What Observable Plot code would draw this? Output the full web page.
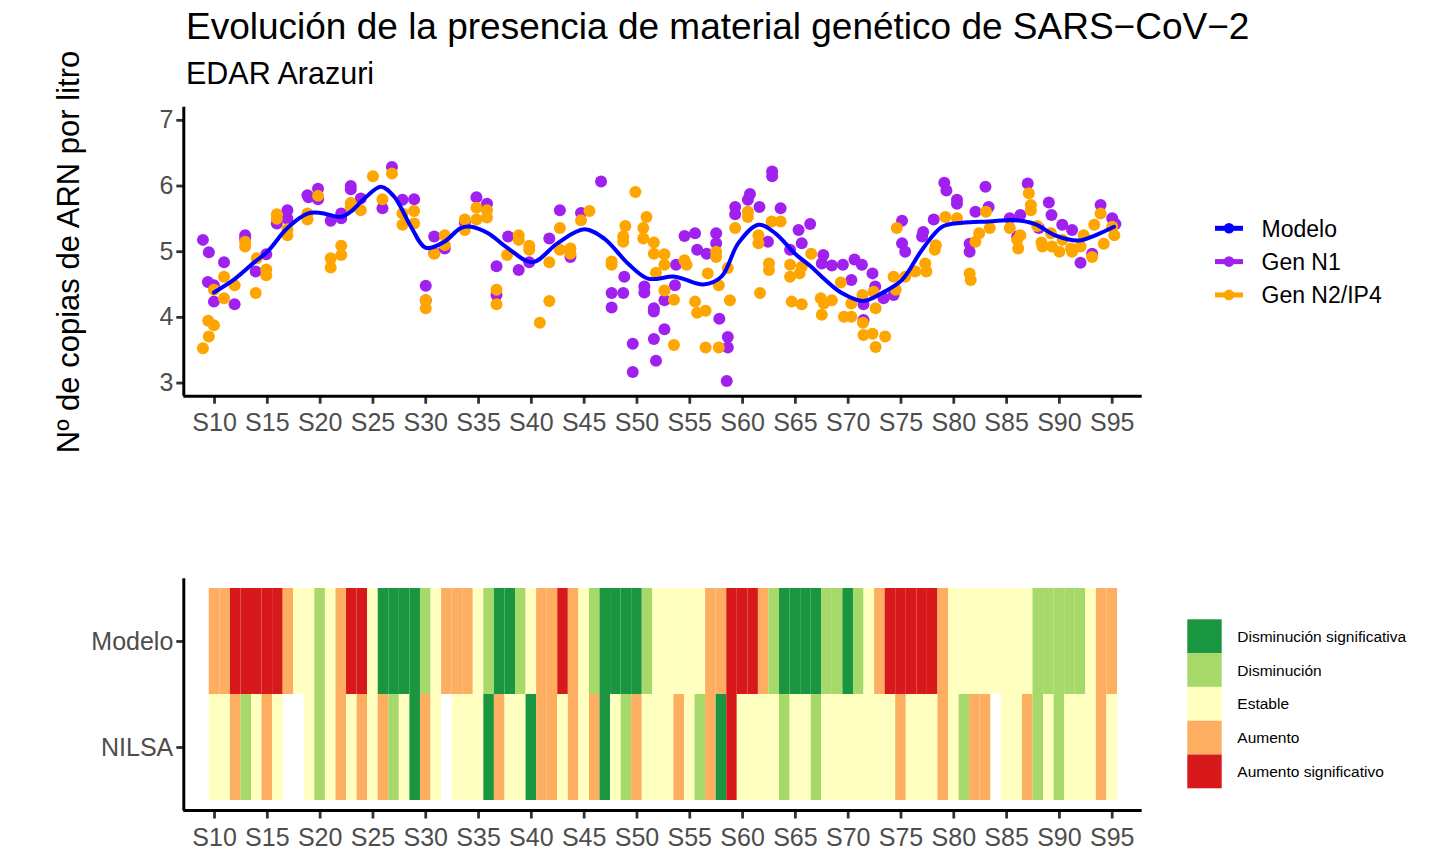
<!DOCTYPE html>
<html><head><meta charset="utf-8">
<script src="https://cdn.jsdelivr.net/npm/d3@7"></script>
<script src="https://cdn.jsdelivr.net/npm/@observablehq/plot@0.6"></script>
<style>
html,body{margin:0;padding:0;background:#fff;}
#root{position:relative;width:1435px;height:864px;overflow:hidden;font-family:"Liberation Sans",Arial,sans-serif;background:#fff;}
#root > svg{position:absolute;}
</style></head><body><div id="root"></div>
<script>
// ---------- DATA ----------
const title = "Evolución de la presencia de material genético de SARS−CoV−2";
const subtitle = "EDAR Arazuri";
const yTitle = "Nº de copias de ARN por litro";
const xTicks = [10,15,20,25,30,35,40,45,50,55,60,65,70,75,80,85,90,95];
const yTicks = [3,4,5,6,7];
const seriesNames = ["Modelo","Gen N1","Gen N2/IP4"];
const seriesColors = ["#0000FF","#A020F0","#FFA500"];

// Gen N1 [week, log10 copies/L]
const genN1 = [
[8.9,5.18],[9.46,4.99],[9.37,4.54],[9.94,4.49],[9.94,4.24],[10.9,4.84],[11.9,4.2],[12.9,5.25],[12.9,5.2],[13.9,4.7],
[14.9,4.96],[15.9,5.43],[16.9,5.63],[16.9,5.5],[18.8,5.86],[18.9,5.83],[19.8,5.96],[19.8,5.8],[21.0,5.47],[22.0,5.51],
[22.0,5.58],[22.9,6.0],[22.9,5.95],[23.85,5.81],[25.9,5.66],[26.8,6.29],[27.8,5.79],[28.9,5.8],[30.0,4.48],[30.0,4.26],
[30.8,5.23],[30.8,4.98],[31.8,5.05],[33.7,5.45],[34.8,5.83],[35.8,5.73],[36.7,4.78],[36.7,4.34],
[37.8,5.23],[38.8,4.72],[39.8,4.84],[41.7,5.2],[42.7,5.63],[43.7,4.92],[44.7,5.59],[46.6,6.07],[47.6,4.37],[47.6,4.15],
[48.7,4.37],[48.8,4.62],[49.6,3.6],[49.6,3.17],[50.7,4.47],[50.7,4.38],[51.6,4.14],[51.6,4.09],[51.6,3.67],[51.8,3.34],
[52.6,4.26],[52.6,3.82],[53.6,4.49],[53.7,4.8],[54.5,5.24],[55.5,5.28],[55.7,5.03],[56.6,4.97],[57.5,5.28],[57.5,5.13],
[57.8,3.98],[58.6,3.7],[58.6,3.54],[58.5,3.03],[59.3,5.68],[59.3,5.57],[60.7,5.88],[60.5,5.79],[61.6,5.68],[62.4,5.15],
[62.8,6.22],[62.8,6.15],[63.6,5.66],[64.5,5.03],[65.3,5.33],[65.6,5.13],[66.4,5.42],
[67.65,4.95],[67.5,4.82],[68.45,4.79],[69.5,4.8],[70.3,4.57],[70.6,4.88],[71.3,4.8],[71.45,4.2],[71.45,3.96],[72.3,4.67],
[72.56,4.47],[73.35,4.29],[74.3,4.34],[75.1,5.47],[75.1,5.13],[75.4,5.0],[77.1,5.3],[77.0,5.23],[78.1,5.49],[79.1,6.05],
[79.3,5.93],[80.3,5.79],[80.3,5.73],[81.5,5.12],[81.5,5.0],[82.05,5.61],[83.0,5.99],[83.3,5.68],[85.3,5.51],[86.0,5.23],
[86.3,5.56],[87.0,6.04],[88.05,5.36],[89.0,5.75],[89.25,5.56],[90.27,5.41],[91.2,5.33],[92.0,4.83],[93.1,4.97],[93.9,5.71],
[95.0,5.51],[95.3,5.42]
];

// Gen N2/IP4 [week, log10 copies/L]
const genN2 = [
[8.9,3.53],[9.46,3.71],[9.4,3.95],[9.94,3.88],[9.94,4.42],[10.9,4.62],[10.9,4.29],[11.9,4.49],[12.9,5.08],[12.9,5.15],
[13.9,4.37],[14.0,4.9],[14.9,4.73],[14.9,4.64],[15.9,5.57],[15.9,5.5],[16.9,5.34],[16.9,5.25],[18.8,5.58],[18.8,5.49],
[19.8,5.85],[21.0,4.9],[21.0,4.76],[22.0,5.09],[22.0,4.95],[22.9,5.74],[22.9,5.68],[23.85,5.63],[25.0,6.15],[25.9,5.8],
[26.8,6.19],[27.8,5.41],[27.8,5.58],[28.9,5.62],[28.9,5.43],[30.0,4.26],[30.0,4.14],[30.8,4.97],[31.8,5.25],[31.8,5.1],
[33.7,5.49],[33.7,5.33],[34.8,5.67],[34.8,5.49],[35.8,5.63],[35.8,5.52],[36.7,4.42],[36.7,4.2],
[37.7,4.95],[38.8,5.25],[38.8,5.18],[39.8,5.09],[39.8,5.03],[40.8,3.92],[41.7,4.84],[41.7,4.25],[42.7,5.36],[42.7,5.03],
[43.7,5.05],[43.7,4.97],[44.7,5.48],[45.5,5.62],[47.6,4.85],[47.6,4.8],[48.7,5.23],[48.7,5.15],[48.9,5.39],[49.85,5.91],
[50.6,5.36],[50.6,5.2],[50.9,5.53],[51.6,5.14],[51.6,4.97],[51.8,4.68],[52.6,4.96],[52.6,4.8],[52.6,4.41],[53.5,4.27],
[53.5,3.58],[54.5,4.87],[54.7,4.8],[55.5,4.24],[55.7,4.07],[56.5,4.1],[56.5,3.54],[56.7,4.67],[57.5,5.0],[57.5,4.92],
[57.75,4.49],[57.75,3.54],[58.6,4.75],[58.8,4.26],[59.3,5.36],[60.5,5.61],[60.5,5.53],[61.5,5.25],[61.5,5.13],[61.65,4.37],
[62.5,4.82],[62.5,4.72],[62.75,5.46],[63.6,5.46],[64.5,4.8],[64.5,4.62],[64.65,4.24],[65.4,4.67],[65.6,4.2],
[65.6,4.77],[66.5,4.97],[67.4,4.29],[67.5,4.04],[67.7,4.21],[68.45,4.26],[69.3,4.53],[69.6,4.01],[70.3,4.01],[70.3,4.21],
[71.35,4.34],[71.4,3.92],[71.45,3.73],[72.3,3.75],[72.4,4.39],[72.6,4.14],[72.6,3.55],[73.5,3.71],[74.3,4.62],[74.5,4.42],
[74.6,5.36],[75.4,4.62],[76.35,4.7],[77.3,4.82],[77.4,4.7],[78.2,5.03],[78.3,5.1],[79.2,5.53],[80.3,5.51],[81.5,4.67],
[81.6,4.57],[82.05,5.15],[82.4,5.28],[83.05,5.61],[83.4,5.36],[85.3,5.36],[86.0,5.18],[86.1,5.05],[86.3,5.25],[87.1,5.89],
[87.3,5.71],[87.3,5.63],[87.9,5.39],[88.3,5.14],[88.4,5.08],[89.2,5.28],[89.3,5.08],[90.0,5.0],[90.3,5.18],[91.1,5.05],
[91.2,5.0],[92.0,5.08],[92.3,5.25],[93.1,4.92],[93.3,5.41],[93.9,5.58],[94.2,5.12],[95.0,5.38],[95.2,5.25]
];

// Modelo (smoothed curve)
const modelo = [
[9.94,4.38],[11.8,4.57],[13.7,4.83],[15.0,5.0],[16.9,5.36],[18.8,5.58],[20.05,5.59],[21.95,5.53],[22.9,5.61],[24.2,5.81],
[25.75,5.99],[27.0,5.84],[28.6,5.38],[30.0,5.06],[31.75,5.15],[33.3,5.36],[34.3,5.38],[35.9,5.28],[37.8,5.05],[40.1,4.84],
[42.5,5.13],[45.0,5.34],[46.9,5.2],[49.15,4.82],[51.05,4.59],[53.6,4.62],[56.3,4.5],[58.0,4.62],[59.6,5.13],[61.5,5.41],
[63.1,5.28],[64.97,4.97],[66.5,4.77],[67.5,4.62],[69.4,4.37],[71.45,4.25],[73.2,4.37],[75.1,4.57],[77.0,5.03],[78.9,5.38],
[80.8,5.44],[83.3,5.46],[85.8,5.48],[87.7,5.42],[89.6,5.25],[91.85,5.17],[93.4,5.25],[95.17,5.38]
];

// Heatmap: week-by-week trend category
const heatRows = ["Modelo","NILSA"];
const heatFirstWeek = 10;
const catCodes = ["DS","D","E","A","AS"];
const catLabels = ["Disminución significativa","Disminución","Estable","Aumento","Aumento significativo"];
const catColors = ["#1a9641","#a6d96a","#ffffbf","#fdae61","#d7191c"];
const modeloTrend = [
"A","A","AS","AS","AS","AS","AS","A","E","E",
"D","E","A","AS","AS","E","DS","DS","DS","DS",
"D","E","A","A","A","E","D","DS","DS","D",
"E","A","A","AS","A","E","D","DS","DS","DS",
"DS","D","E","E","E","E","E","A","A","AS",
"AS","AS","A","D","DS","DS","DS","DS","D","D",
"DS","D","E","A","AS","AS","AS","AS","AS","A",
"E","E","E","E","E","E","E","E","D","D",
"D","D","D","E","A","A"
];
const nilsaTrend = [
"E","E","A","D","E","A","E",null,null,"E",
"D","E","A","E","A","E","A","D","E","DS",
"A","E",null,"E","E","E","DS","A","E","E",
"DS","A","A","E","A","E","A","DS","E","D",
"A","E","E","E","A","E","D","A","DS","AS",
"E","E","E","E","D","E","E","D","E","E",
"E","E","E","E","E","A","E","E","E","A",
"E","D","A","A",null,"E","E","A","D","E",
"D","E","E","E","A","E"
];

// ---------- LAYOUT ----------
const FONT = '"Liberation Sans", Arial, sans-serif';
const xDomain = [7.09, 97.84];
const yDomain = [2.8, 7.2];
const W = 1160;
const TOP = {top: 90, height: 350, ml: 183.3, mr: 18.3, mt: 16.7, mb: 44.3};
const BOT = {top: 560, height: 300, ml: 183.3, mr: 18.3, mt: 18.3, mb: 49.5};
const root = document.getElementById("root");
const tickTextColor = "#4d4d4d";
const axisCommon = {fontSize: 25, fill: tickTextColor, stroke: "#333333", strokeWidth: 2.8, label: null};

const toObj = arr => arr.map(([w, v]) => ({w, v}));

const topChart = Plot.plot({
  width: W, height: TOP.height,
  marginLeft: TOP.ml, marginRight: TOP.mr, marginTop: TOP.mt, marginBottom: TOP.mb,
  x: {domain: xDomain},
  y: {domain: yDomain},
  style: {fontFamily: FONT, background: "none", overflow: "visible", maxWidth: "none"},
  marks: [
    Plot.dot(toObj(genN1), {x: "w", y: "v", r: 6, fill: seriesColors[1], stroke: "none"}),
    Plot.dot(toObj(genN2), {x: "w", y: "v", r: 6, fill: seriesColors[2], stroke: "none"}),
    Plot.line(toObj(modelo), {x: "w", y: "v", stroke: seriesColors[0], strokeWidth: 4, curve: "catmull-rom"}),
    Plot.axisX({...axisCommon, ticks: xTicks, tickFormat: d => "S" + d, tickSize: 8, tickPadding: 9}),
    Plot.axisY({...axisCommon, ticks: yTicks, tickFormat: d => String(d), tickSize: 7, tickPadding: 3.5}),
    Plot.ruleY([yDomain[0]], {stroke: "#000", strokeWidth: 3}),
    Plot.ruleX([xDomain[0]], {stroke: "#000", strokeWidth: 3})
  ]
});
topChart.style.left = "0px"; topChart.style.top = TOP.top + "px";
root.appendChild(topChart);

const cells = [];
heatRows.forEach((row, ri) => {
  const arr = ri === 0 ? modeloTrend : nilsaTrend;
  arr.forEach((c, i) => {
    if (c == null) return;
    const w = heatFirstWeek + i;
    cells.push({row, w, cat: catLabels[catCodes.indexOf(c)]});
  });
});

const botChart = Plot.plot({
  width: W, height: BOT.height,
  marginLeft: BOT.ml, marginRight: BOT.mr, marginTop: BOT.mt, marginBottom: BOT.mb,
  x: {domain: xDomain},
  y: {domain: heatRows, paddingInner: 0, paddingOuter: 0.088},
  color: {domain: catLabels, range: catColors},
  style: {fontFamily: FONT, background: "none", overflow: "visible", maxWidth: "none"},
  marks: [
    Plot.barX(cells, {x1: d => d.w - 0.5, x2: d => d.w + 0.5, y: "row", fill: "cat"}),
    Plot.axisX({...axisCommon, ticks: xTicks, tickFormat: d => "S" + d, tickSize: 8, tickPadding: 9}),
    Plot.axisY({...axisCommon, tickSize: 7, tickPadding: 3.5}),
    Plot.ruleX([xDomain[0]], {stroke: "#000", strokeWidth: 3})
  ]
});
d3.select(botChart).append("line")
  .attr("x1", BOT.ml).attr("x2", W - BOT.mr)
  .attr("y1", BOT.height - BOT.mb).attr("y2", BOT.height - BOT.mb)
  .attr("stroke", "#000").attr("stroke-width", 3);
botChart.style.left = "0px"; botChart.style.top = BOT.top + "px";
root.appendChild(botChart);

// ---------- TEXT / LEGENDS ----------
const ov = d3.select(root).append("svg")
  .attr("width", 1435).attr("height", 864)
  .style("left", "0px").style("top", "0px")
  .style("font-family", FONT);

ov.append("text").attr("x", 186).attr("y", 39).attr("font-size", 37).attr("fill", "#000").text(title);
ov.append("text").attr("x", 186).attr("y", 84).attr("font-size", 30.5).attr("fill", "#000").text(subtitle);
ov.append("text").attr("transform", "translate(79,252) rotate(-90)").attr("text-anchor", "middle")
  .attr("font-size", 31).attr("fill", "#000").text(yTitle);

// top legend
seriesNames.forEach((name, i) => {
  const cy = 228.3 + i * 33.3;
  const g = ov.append("g");
  g.append("line").attr("x1", 1215).attr("x2", 1243).attr("y1", cy).attr("y2", cy)
    .attr("stroke", seriesColors[i]).attr("stroke-width", 5);
  g.append("circle").attr("cx", 1229).attr("cy", cy).attr("r", 5.3).attr("fill", seriesColors[i]);
  g.append("text").attr("x", 1261.5).attr("y", cy).attr("dy", "0.36em").attr("font-size", 23)
    .attr("fill", "#000").text(name);
});

// bottom legend
catLabels.forEach((lab, i) => {
  const y0 = 619.3 + i * 33.8;
  ov.append("rect").attr("x", 1187.3).attr("y", y0).attr("width", 34.4).attr("height", 33.8).attr("fill", catColors[i]);
  ov.append("text").attr("x", 1237.3).attr("y", y0 + 16.9).attr("dy", "0.36em").attr("font-size", 15.5)
    .attr("fill", "#000").text(lab);
});
</script></body></html>
